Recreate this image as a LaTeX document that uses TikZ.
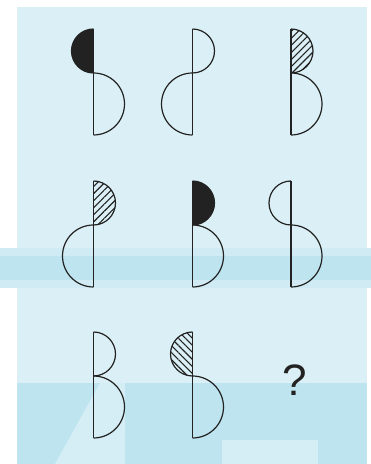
\documentclass[tikz,border=0pt]{standalone}
\usepackage{fontspec}
\setmainfont{Liberation Sans}
\usetikzlibrary{patterns.meta}
\definecolor{bgblue}{HTML}{DBF0F6}
\definecolor{bandblue}{HTML}{BEE4F0}
\definecolor{midblue}{HTML}{D0EBF3}
\definecolor{paleblue}{HTML}{D5EEF5}
\definecolor{figblack}{HTML}{222222}
\tikzset{
  outline/.style={draw=figblack, line width=1.2pt},
  solid half/.style={fill=figblack},
  hatch ne/.style={pattern={Lines[angle=45,distance=5pt,line width=1.1pt]}, pattern color=figblack},
  hatch nw/.style={pattern={Lines[angle=-45,distance=5pt,line width=1.1pt]}, pattern color=figblack},
  blank half/.style={},
}

\begin{document}
\begin{tikzpicture}[x=1pt, y=1pt]
\useasboundingbox (0,0) rectangle (371,464);

% background
\fill[white] (0,0) rectangle (371,464);
\fill[bgblue] (17,0) rectangle (367,457);
\fill[midblue] (0,176) rectangle (371,216);
\fill[bandblue] (0,184) rectangle (371,208);
\fill[bandblue] (17,0) rectangle (367,81);
\fill[paleblue] (55,0) -- (100,81) -- (125,81) -- (125,0) -- cycle;
\fill[paleblue] (222,0) rectangle (318,24);

% figures: x / top / top side / top fill / bottom side
\foreach \fx/\fy/\ts/\tf/\bs in {
    93.5/435/-1/solid half/1, 192.5/435/1/blank half/-1, 291/435/1/hatch ne/1,
    93.5/283/1/hatch ne/-1, 192.5/283/1/solid half/1, 291/283/-1/blank half/1,
    93.5/132/1/blank half/1, 192.5/132/-1/hatch nw/1} {
  \path[\tf] (\fx,\fy) arc[start angle=90, end angle=90-(\ts)*180, radius=22pt] -- cycle;
  \draw[outline] (\fx,\fy) arc[start angle=90, end angle=90-(\ts)*180, radius=22pt];
  \draw[outline] (\fx,\fy-44) arc[start angle=90, end angle=90-(\bs)*180, radius=31pt];
  \draw[outline] (\fx,\fy) -- (\fx,\fy-106);
}

\node[text=figblack, font=\fontsize{44}{50}\selectfont, inner sep=0pt] (qmark) at (295,84) {?};
\end{tikzpicture}
\end{document}
